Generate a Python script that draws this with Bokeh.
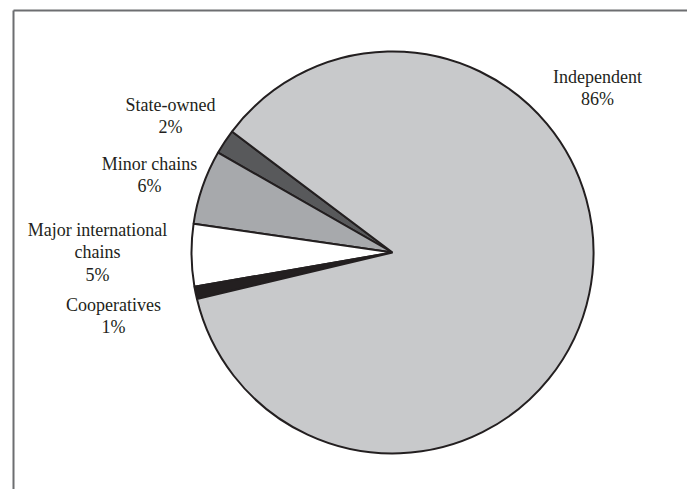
import math
from bokeh.plotting import figure
from bokeh.models import Range1d, ColumnDataSource
from bokeh.core.properties import value
from bokeh.embed import file_html
from bokeh.resources import INLINE

# ---- data ----
categories = ["State-owned", "Minor chains", "Major international chains", "Cooperatives", "Independent"]
shares = [2, 6, 5, 1, 86]
label_lines = [["State-owned"], ["Minor chains"], ["Major international", "chains"],
               ["Cooperatives"], ["Independent"]]
colors = ["#58595b", "#a7a9ac", "#ffffff", "#231f20", "#c8c9cb"]

# ---- layout ----
W, H = 687, 489
START_DEG = 143.0
CX, CY, R = 392, 252, 201          # screen-pixel centre / radius
label_pos = [(170, 104), (149, 163), (97, 229), (113, 304), (597, 76)]  # first baseline
LINE = 22.5
FONT = "Liberation Serif"
INK = "#231f20"

total = float(sum(shares))
starts, ends = [], []
a = START_DEG
for s in shares:
    starts.append(a)
    a += 360.0 * s / total
    ends.append(a)

src = ColumnDataSource(dict(cat=categories, start=starts, end=ends, color=colors))

p = figure(width=W, height=H, x_range=Range1d(0, W), y_range=Range1d(0, H),
           output_backend="svg", toolbar_location=None, min_border=0,
           x_axis_location=None, y_axis_location=None)
p.grid.visible = False
p.outline_line_color = None
p.background_fill_color = "white"
p.border_fill_color = "white"

# frame (top and left edges visible)
p.segment(x0=[13, 13], y0=[H - 10, H - 10], x1=[W, 13], y1=[H - 10, 0],
          line_color="#6d6e71", line_width=2)

p.wedge(x=CX, y=H - CY, radius=R, start_angle="start", end_angle="end",
        start_angle_units="deg", end_angle_units="deg", direction="anticlock",
        fill_color="color", line_color=INK, line_width=2, source=src)

tx, ty, tt = [], [], []
for lines, share, (lx, ly) in zip(label_lines, shares, label_pos):
    allines = lines + ["%d%%" % share]
    for i, t in enumerate(allines):
        tx.append(lx)
        ty.append(H - (ly + i * LINE))
        tt.append(t)

p.text(x=tx, y=ty, text=tt, text_font=value(FONT), text_font_size="18px",
       text_color=INK, text_align="center", text_baseline="alphabetic")

open("out.html", "w").write(file_html(p, INLINE))
